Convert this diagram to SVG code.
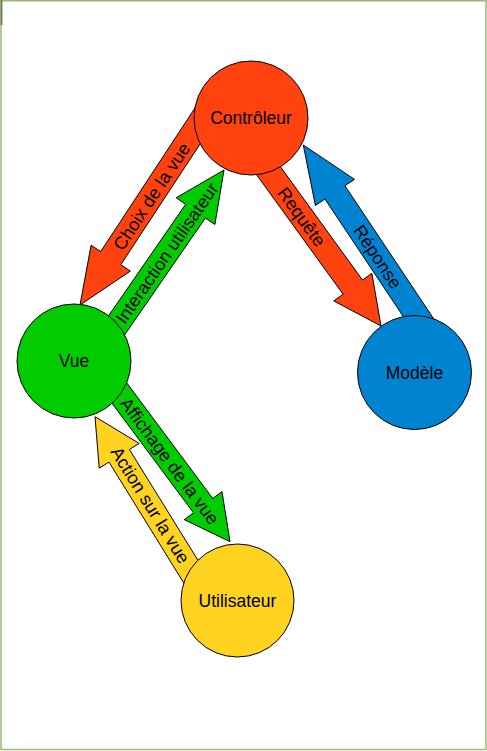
<svg xmlns="http://www.w3.org/2000/svg" width="487" height="751" viewBox="0 0 487 751">
<style>
.arrow{stroke:#000;stroke-width:1;stroke-linejoin:miter}
.node{stroke:#000;stroke-width:1}
.lbl{font-family:"Liberation Sans",Arial,sans-serif;font-size:18px;fill:#000;text-anchor:middle}
.nlbl{font-family:"Liberation Sans",Arial,sans-serif;font-size:17.5px;fill:#000;text-anchor:middle}
.red{fill:#ff420e}.green{fill:#00cc00}.blue{fill:#0084d1}.yellow{fill:#ffd320}
</style>
<rect x="0" y="0" width="487" height="751" fill="#fff"/>
<rect x="1" y="0.75" width="485" height="748.75" fill="none" stroke="#9aba74" stroke-width="1.5"/>
<line x1="1.5" y1="0" x2="1.5" y2="25" stroke="#6d8459" stroke-width="2"/>
<g id="connectors">
  <g id="e-choix">
    <polygon class="arrow red" points="227.28,102.59 120.77,264.77 130.39,271.08 80,305 91.09,245.28 100.71,251.59 207.22,89.41"/>
    <text class="lbl" transform="translate(151.4,196.3) rotate(-56.7)" x="0" y="6.5">Choix de la vue</text>
  </g>
  <g id="e-interaction">
    <polygon class="arrow green" points="83.25,352.46 185.67,204.32 176.21,197.78 224,170 214.89,224.52 205.43,217.98 103.01,366.12"/>
    <text class="lbl" transform="translate(166.6,253) rotate(-55.34)" x="0" y="6.5">Interaction utilisateur</text>
  </g>
  <g id="e-requete">
    <polygon class="arrow red" points="230.4,138.64 343.1,294.16 333.78,300.91 381,326 371.86,273.33 362.54,280.08 249.84,124.56"/>
    <text class="lbl" transform="translate(301.8,216.7) rotate(54.07)" x="0" y="6.5">Requête</text>
  </g>
  <g id="e-reponse">
    <polygon class="arrow blue" points="446.48,338.02 344.92,185.76 354.49,179.38 303.3,145 315.39,205.46 324.96,199.08 426.52,351.34"/>
    <text class="lbl" transform="translate(377.8,256.7) rotate(56.3)" x="0" y="6.5">Réponse</text>
  </g>
  <g id="e-affichage">
    <polygon class="arrow green" points="95.01,380.44 193.51,512.77 184.28,519.64 230,541.7 221.98,491.58 212.75,498.45 114.25,366.12"/>
    <text class="lbl" transform="translate(169.8,460.8) rotate(53.33)" x="0" y="6.5">Affichage de la vue</text>
  </g>
  <g id="e-action">
    <polygon class="arrow yellow" points="215.66,588.89 129.4,449.49 139.18,443.44 95,416.7 99.22,468.16 109,462.11 195.26,601.51"/>
    <text class="lbl" transform="translate(150.5,505) rotate(58.25)" x="0" y="6.5">Action sur la vue</text>
  </g>
</g>
<g id="controleur">
  <circle class="node red" cx="251" cy="118" r="57"/>
  <text class="nlbl" x="251" y="124">Contrôleur</text>
</g>
<g id="vue">
  <circle class="node green" cx="74" cy="361" r="57"/>
  <text class="nlbl" x="74" y="367">Vue</text>
</g>
<g id="modele">
  <circle class="node blue" cx="414.5" cy="372.5" r="57"/>
  <text class="nlbl" x="414.5" y="378.5">Modèle</text>
</g>
<g id="utilisateur">
  <circle class="node yellow" cx="237.5" cy="600.5" r="56.5"/>
  <text class="nlbl" x="237.5" y="606.5">Utilisateur</text>
</g>
</svg>
